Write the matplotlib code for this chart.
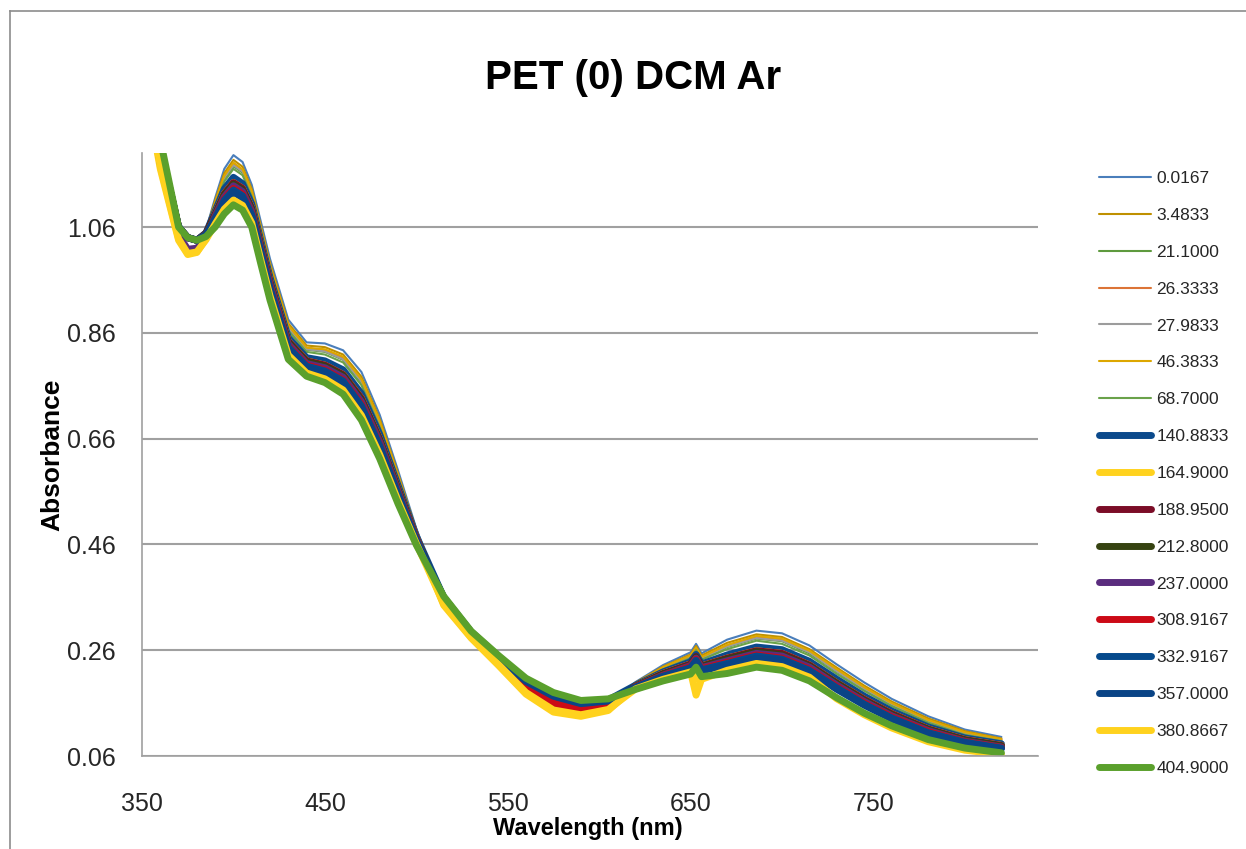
import numpy as np
import matplotlib.pyplot as plt
from matplotlib.lines import Line2D

# ==============================
# Datos
# ==============================
wavelength = [350, 360, 370, 375, 380, 385, 390, 395, 400, 405, 410, 415, 420, 430, 440, 450,
              460, 470, 480, 490, 500, 515, 530, 545, 560, 575, 590, 605, 620, 635, 650, 653,
              656, 670, 686, 700, 715, 730, 745, 760, 780, 800, 820]

a_0_0167 = [1.40, 1.22, 1.07, 1.045, 1.04, 1.055, 1.115, 1.17, 1.196, 1.183, 1.14, 1.07, 1.00, 0.885, 0.842, 0.840,
            0.827, 0.786, 0.705, 0.600, 0.490, 0.355, 0.291, 0.242, 0.195, 0.165, 0.153, 0.159, 0.200, 0.232, 0.256, 0.272,
            0.254, 0.280, 0.297, 0.292, 0.269, 0.233, 0.199, 0.168, 0.135, 0.110, 0.096]
a_3_4833 = [1.40, 1.22, 1.068, 1.044, 1.039, 1.054, 1.110, 1.162, 1.187, 1.174, 1.132, 1.062, 0.992, 0.878, 0.836, 0.833,
            0.819, 0.777, 0.697, 0.594, 0.487, 0.354, 0.290, 0.241, 0.192, 0.162, 0.150, 0.157, 0.199, 0.229, 0.252, 0.268,
            0.250, 0.274, 0.290, 0.285, 0.262, 0.227, 0.193, 0.163, 0.131, 0.107, 0.093]
a_21_1000 = [1.40, 1.215, 1.065, 1.042, 1.037, 1.052, 1.103, 1.151, 1.175, 1.163, 1.122, 1.052, 0.983, 0.869, 0.828, 0.824,
             0.809, 0.766, 0.687, 0.586, 0.483, 0.354, 0.290, 0.242, 0.194, 0.163, 0.152, 0.158, 0.197, 0.225, 0.247, 0.262,
             0.244, 0.266, 0.282, 0.277, 0.254, 0.219, 0.186, 0.157, 0.125, 0.102, 0.089]
a_26_3333 = [1.40, 1.218, 1.066, 1.043, 1.038, 1.053, 1.105, 1.155, 1.179, 1.167, 1.126, 1.056, 0.986, 0.872, 0.831, 0.827,
             0.812, 0.770, 0.690, 0.589, 0.484, 0.354, 0.290, 0.241, 0.192, 0.162, 0.150, 0.157, 0.198, 0.227, 0.249, 0.264,
             0.246, 0.269, 0.285, 0.279, 0.257, 0.222, 0.189, 0.159, 0.127, 0.104, 0.091]
a_27_9833 = [1.40, 1.215, 1.065, 1.042, 1.037, 1.052, 1.104, 1.153, 1.177, 1.165, 1.124, 1.054, 0.984, 0.870, 0.829, 0.825,
             0.810, 0.768, 0.688, 0.587, 0.484, 0.348, 0.286, 0.235, 0.183, 0.150, 0.141, 0.150, 0.197, 0.226, 0.248, 0.263,
             0.245, 0.267, 0.283, 0.278, 0.256, 0.220, 0.187, 0.158, 0.126, 0.103, 0.090]
a_46_3833 = [1.40, 1.218, 1.066, 1.043, 1.038, 1.053, 1.107, 1.157, 1.182, 1.169, 1.128, 1.058, 0.988, 0.874, 0.832, 0.829,
             0.815, 0.772, 0.693, 0.591, 0.485, 0.351, 0.288, 0.238, 0.188, 0.156, 0.146, 0.154, 0.198, 0.228, 0.250, 0.265,
             0.247, 0.270, 0.287, 0.282, 0.259, 0.224, 0.190, 0.160, 0.128, 0.105, 0.092]
a_68_7000 = [1.40, 1.215, 1.064, 1.042, 1.037, 1.051, 1.100, 1.146, 1.170, 1.158, 1.118, 1.048, 0.978, 0.864, 0.824, 0.819,
             0.804, 0.761, 0.682, 0.582, 0.481, 0.355, 0.291, 0.242, 0.195, 0.165, 0.153, 0.159, 0.196, 0.224, 0.245, 0.260,
             0.242, 0.262, 0.278, 0.272, 0.250, 0.215, 0.183, 0.154, 0.123, 0.100, 0.088]
a_140_8833 = [1.40, 1.21, 1.06, 1.04, 1.035, 1.049, 1.090, 1.132, 1.154, 1.142, 1.104, 1.034, 0.965, 0.851, 0.813, 0.807,
              0.790, 0.745, 0.668, 0.572, 0.476, 0.360, 0.295, 0.248, 0.204, 0.176, 0.162, 0.166, 0.194, 0.219, 0.238, 0.252,
              0.234, 0.251, 0.266, 0.261, 0.239, 0.205, 0.173, 0.145, 0.115, 0.094, 0.083]
a_164_9000 = [1.36, 1.17, 1.035, 1.008, 1.012, 1.038, 1.085, 1.123, 1.144, 1.133, 1.096, 1.026, 0.957, 0.844, 0.807, 0.799,
              0.781, 0.736, 0.659, 0.565, 0.473, 0.345, 0.283, 0.231, 0.177, 0.143, 0.135, 0.146, 0.192, 0.216, 0.234, 0.205,
              0.230, 0.245, 0.259, 0.254, 0.232, 0.198, 0.167, 0.140, 0.111, 0.091, 0.080]
a_188_9500 = [1.40, 1.21, 1.06, 1.04, 1.035, 1.048, 1.085, 1.123, 1.144, 1.133, 1.096, 1.026, 0.957, 0.844, 0.807, 0.799,
              0.781, 0.736, 0.659, 0.565, 0.473, 0.352, 0.288, 0.239, 0.189, 0.158, 0.147, 0.155, 0.192, 0.216, 0.234, 0.248,
              0.230, 0.245, 0.259, 0.254, 0.232, 0.198, 0.167, 0.140, 0.111, 0.091, 0.080]
a_212_8000 = [1.40, 1.21, 1.06, 1.04, 1.035, 1.047, 1.083, 1.121, 1.141, 1.130, 1.094, 1.024, 0.955, 0.842, 0.805, 0.797,
              0.779, 0.733, 0.657, 0.564, 0.472, 0.354, 0.290, 0.241, 0.192, 0.162, 0.150, 0.157, 0.192, 0.215, 0.232, 0.247,
              0.229, 0.243, 0.257, 0.251, 0.230, 0.197, 0.165, 0.138, 0.110, 0.090, 0.079]
a_237_0000 = [1.38, 1.18, 1.045, 1.018, 1.020, 1.040, 1.081, 1.117, 1.138, 1.127, 1.090, 1.020, 0.952, 0.839, 0.802, 0.794,
              0.776, 0.730, 0.654, 0.561, 0.471, 0.349, 0.286, 0.236, 0.185, 0.152, 0.143, 0.152, 0.191, 0.213, 0.231, 0.245,
              0.227, 0.240, 0.254, 0.249, 0.228, 0.194, 0.163, 0.136, 0.108, 0.088, 0.077]
a_308_9167 = [1.40, 1.21, 1.06, 1.04, 1.035, 1.046, 1.078, 1.113, 1.133, 1.122, 1.086, 1.016, 0.948, 0.835, 0.799, 0.790,
              0.771, 0.725, 0.649, 0.558, 0.469, 0.353, 0.289, 0.240, 0.191, 0.160, 0.149, 0.156, 0.191, 0.212, 0.229, 0.243,
              0.225, 0.237, 0.251, 0.245, 0.224, 0.191, 0.160, 0.134, 0.106, 0.087, 0.076]
a_332_9167 = [1.40, 1.21, 1.06, 1.04, 1.035, 1.046, 1.077, 1.111, 1.130, 1.119, 1.084, 1.014, 0.945, 0.833, 0.797, 0.788,
              0.769, 0.722, 0.647, 0.556, 0.468, 0.360, 0.294, 0.247, 0.203, 0.175, 0.161, 0.165, 0.190, 0.211, 0.227, 0.241,
              0.223, 0.235, 0.249, 0.243, 0.222, 0.189, 0.158, 0.132, 0.104, 0.086, 0.075]
a_357_0000 = [1.40, 1.21, 1.06, 1.04, 1.035, 1.045, 1.074, 1.106, 1.126, 1.115, 1.080, 1.010, 0.942, 0.829, 0.794, 0.785,
              0.765, 0.718, 0.643, 0.553, 0.467, 0.359, 0.293, 0.246, 0.201, 0.173, 0.159, 0.164, 0.190, 0.210, 0.225, 0.239,
              0.221, 0.232, 0.245, 0.240, 0.219, 0.186, 0.156, 0.130, 0.102, 0.084, 0.074]
a_380_8667 = [1.37, 1.175, 1.038, 1.010, 1.013, 1.036, 1.066, 1.094, 1.111, 1.101, 1.068, 0.998, 0.930, 0.818, 0.784, 0.773,
              0.752, 0.704, 0.630, 0.543, 0.462, 0.347, 0.284, 0.233, 0.180, 0.147, 0.138, 0.148, 0.187, 0.205, 0.219, 0.175,
              0.205, 0.222, 0.235, 0.229, 0.209, 0.168, 0.138, 0.113, 0.087, 0.071, 0.063]
a_404_9000 = [1.39, 1.225, 1.06, 1.04, 1.035, 1.042, 1.06, 1.085, 1.102, 1.092, 1.06, 0.99, 0.922, 0.81, 0.778, 0.766,
              0.744, 0.695, 0.622, 0.537, 0.459, 0.362, 0.296, 0.250, 0.207, 0.180, 0.165, 0.168, 0.186, 0.202, 0.215, 0.228,
              0.210, 0.216, 0.228, 0.222, 0.202, 0.170, 0.141, 0.117, 0.091, 0.075, 0.066]

labels = ['0.0167', '3.4833', '21.1000', '26.3333', '27.9833', '46.3833', '68.7000', '140.8833',
          '164.9000', '188.9500', '212.8000', '237.0000', '308.9167', '332.9167', '357.0000',
          '380.8667', '404.9000']
series = [a_0_0167, a_3_4833, a_21_1000, a_26_3333, a_27_9833, a_46_3833, a_68_7000, a_140_8833,
          a_164_9000, a_188_9500, a_212_8000, a_237_0000, a_308_9167, a_332_9167, a_357_0000,
          a_380_8667, a_404_9000]
colors = ['#4A7EBB', '#BF9000', '#5E9A3E', '#DC7436', '#9C9C9C', '#DDA700', '#6AA24A', '#0B4A8C',
          '#FFD21E', '#7B0D27', '#364311', '#5A2C7E', '#CC0A16', '#064A8C', '#0A4486',
          '#FFD21E', '#5AA02C']
widths = [1.5] * 7 + [5.0] * 10

yticks = [0.06, 0.26, 0.46, 0.66, 0.86, 1.06]
xticks = [350, 450, 550, 650, 750]

# ==============================
# Figura
# ==============================
plt.rcParams['font.family'] = ['Liberation Sans', 'DejaVu Sans']

W, H = 1246, 849
fig = plt.figure(figsize=(W / 100, H / 100), dpi=100)
ax = fig.add_axes([142 / W, 1 - 756 / H, (1038 - 142) / W, (756 - 153) / H])

for y, lab, c, lw in zip(series, labels, colors, widths):
    ax.plot(wavelength, y, color=c, lw=lw, label=lab, solid_capstyle='round',
            solid_joinstyle='round')

ax.set_xlim(350, 840)
ax.set_ylim(0.06, 1.20)
ax.set_xticks(xticks)
ax.set_yticks(yticks)
ax.set_yticklabels(['%.2f' % v for v in yticks])
ax.tick_params(axis='both', length=0, labelsize=18, colors='#262626')
ax.tick_params(axis='x', pad=26)
ax.tick_params(axis='y', pad=19)
ax.grid(axis='y', color='#A0A0A0', lw=1.5)
ax.set_axisbelow(True)
for s in ['top', 'right']:
    ax.spines[s].set_visible(False)
for s in ['left', 'bottom']:
    ax.spines[s].set_color('#A0A0A0')
    ax.spines[s].set_linewidth(1.2)

fig.text(633 / W, 1 - 78 / H, 'PET (0) DCM Ar', ha='center', va='center',
         fontsize=29, fontweight='bold')
fig.text(588 / W, 1 - 829 / H, 'Wavelength (nm)', ha='center', va='center',
         fontsize=17, fontweight='bold')
fig.text(52 / W, 1 - 455 / H, 'Absorbance', ha='center', va='center',
         rotation=90, fontsize=19, fontweight='bold')

# borde del área del gráfico
fig.add_artist(Line2D([10 / W, 10 / W], [1 - 11 / H, 0], color='#8C8C8C', lw=1.2))
fig.add_artist(Line2D([10 / W, 1], [1 - 11 / H, 1 - 11 / H], color='#8C8C8C', lw=1.2))

leg = fig.legend(loc='upper left', bbox_to_anchor=(1099 / W, 1 - 171 / H), frameon=False,
                 fontsize=12.5, handlelength=3.0, handletextpad=0.3, labelspacing=1.25,
                 borderpad=0, borderaxespad=0)
for t in leg.get_texts():
    t.set_color('#262626')

fig.savefig('out.png', dpi=100, facecolor='white')
